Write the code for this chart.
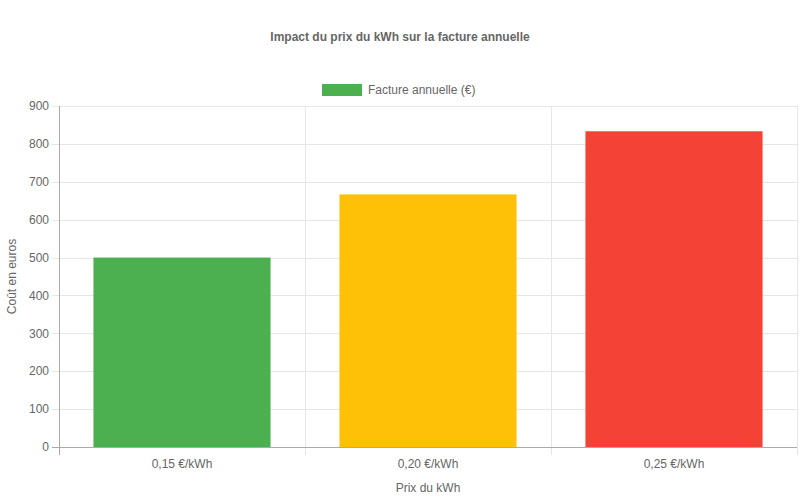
<!DOCTYPE html>
<html>
<head>
<meta charset="utf-8">
<script src="https://cdn.jsdelivr.net/npm/d3@7"></script>
<style>
  body { margin: 0; background: #fff; }
  text { font-family: "Liberation Sans", Arial, sans-serif; fill: #666; }
</style>
</head>
<body>
<div id="chart"></div>
<script>
const categories = ['0,15 €/kWh', '0,20 €/kWh', '0,25 €/kWh'];
const values = [500, 666.67, 833.33];
const colors = ['#4CAF50', '#FFC107', '#F44336'];
const yTicks = [0, 100, 200, 300, 400, 500, 600, 700, 800, 900];

const width = 800,
  height = 500;
const margin = { top: 106, right: 3, bottom: 53, left: 59 };

const svg = d3
  .select('#chart')
  .append('svg')
  .attr('width', width)
  .attr('height', height);

const x = d3
  .scaleBand()
  .domain(categories)
  .range([margin.left, width - margin.right]);

const y = d3
  .scaleLinear()
  .domain([0, 900])
  .range([height - margin.bottom, margin.top]);

// grid
const grid = svg.append('g');
grid
  .selectAll('line.h')
  .data(yTicks)
  .join('line')
  .attr('x1', margin.left - 7)
  .attr('x2', width - margin.right)
  .attr('y1', (d) => Math.round(y(d)) + 0.5)
  .attr('y2', (d) => Math.round(y(d)) + 0.5)
  .attr('stroke', '#e6e6e6');

const vLines = categories.map((c) => x(c)).concat([x.range()[1]]);
grid
  .selectAll('line.v')
  .data(vLines)
  .join('line')
  .attr('x1', (d) => Math.round(d) + 0.5)
  .attr('x2', (d) => Math.round(d) + 0.5)
  .attr('y1', margin.top)
  .attr('y2', height - margin.bottom + 8)
  .attr('stroke', '#e6e6e6');

// bars
const inner = x.bandwidth() * 0.72;
svg
  .selectAll('rect.bar')
  .data(values)
  .join('rect')
  .attr('x', (d, i) => x(categories[i]) + (x.bandwidth() - inner) / 2)
  .attr('width', inner)
  .attr('y', (d) => y(d))
  .attr('height', (d) => y(0) - y(d))
  .attr('fill', (d, i) => colors[i]);

// axes lines
svg
  .append('line')
  .attr('x1', margin.left + 0.5)
  .attr('x2', margin.left + 0.5)
  .attr('y1', margin.top)
  .attr('y2', height - margin.bottom + 8)
  .attr('stroke', '#aaa');
svg
  .append('line')
  .attr('x1', margin.left - 7)
  .attr('x2', width - margin.right)
  .attr('y1', Math.round(y(0)) + 0.5)
  .attr('y2', Math.round(y(0)) + 0.5)
  .attr('stroke', '#aaa');

// y tick labels
svg
  .selectAll('text.yt')
  .data(yTicks)
  .join('text')
  .attr('x', margin.left - 10)
  .attr('y', (d) => y(d))
  .attr('dy', '0.35em')
  .attr('text-anchor', 'end')
  .attr('font-size', 12)
  .text((d) => d);

// x tick labels
svg
  .selectAll('text.xt')
  .data(categories)
  .join('text')
  .attr('x', (d) => x(d) + x.bandwidth() / 2)
  .attr('y', height - margin.bottom + 17)
  .attr('dy', '0.35em')
  .attr('text-anchor', 'middle')
  .attr('font-size', 12)
  .text((d) => d);

// axis titles
svg
  .append('text')
  .attr('x', (margin.left + width - margin.right) / 2)
  .attr('y', 488)
  .attr('dy', '0.35em')
  .attr('text-anchor', 'middle')
  .attr('font-size', 12)
  .text('Prix du kWh');

svg
  .append('text')
  .attr('transform', `translate(12,${(margin.top + height - margin.bottom) / 2}) rotate(-90)`)
  .attr('dy', '0.35em')
  .attr('text-anchor', 'middle')
  .attr('font-size', 12)
  .text('Coût en euros');

// title
svg
  .append('text')
  .attr('x', width / 2)
  .attr('y', 37)
  .attr('dy', '0.35em')
  .attr('text-anchor', 'middle')
  .attr('font-size', 12)
  .attr('font-weight', 'bold')
  .text('Impact du prix du kWh sur la facture annuelle');

// legend
svg
  .append('rect')
  .attr('x', 322)
  .attr('y', 84)
  .attr('width', 40)
  .attr('height', 12)
  .attr('fill', colors[0]);
svg
  .append('text')
  .attr('x', 368)
  .attr('y', 90)
  .attr('dy', '0.35em')
  .attr('font-size', 12)
  .text('Facture annuelle (€)');
</script>
</body>
</html>
